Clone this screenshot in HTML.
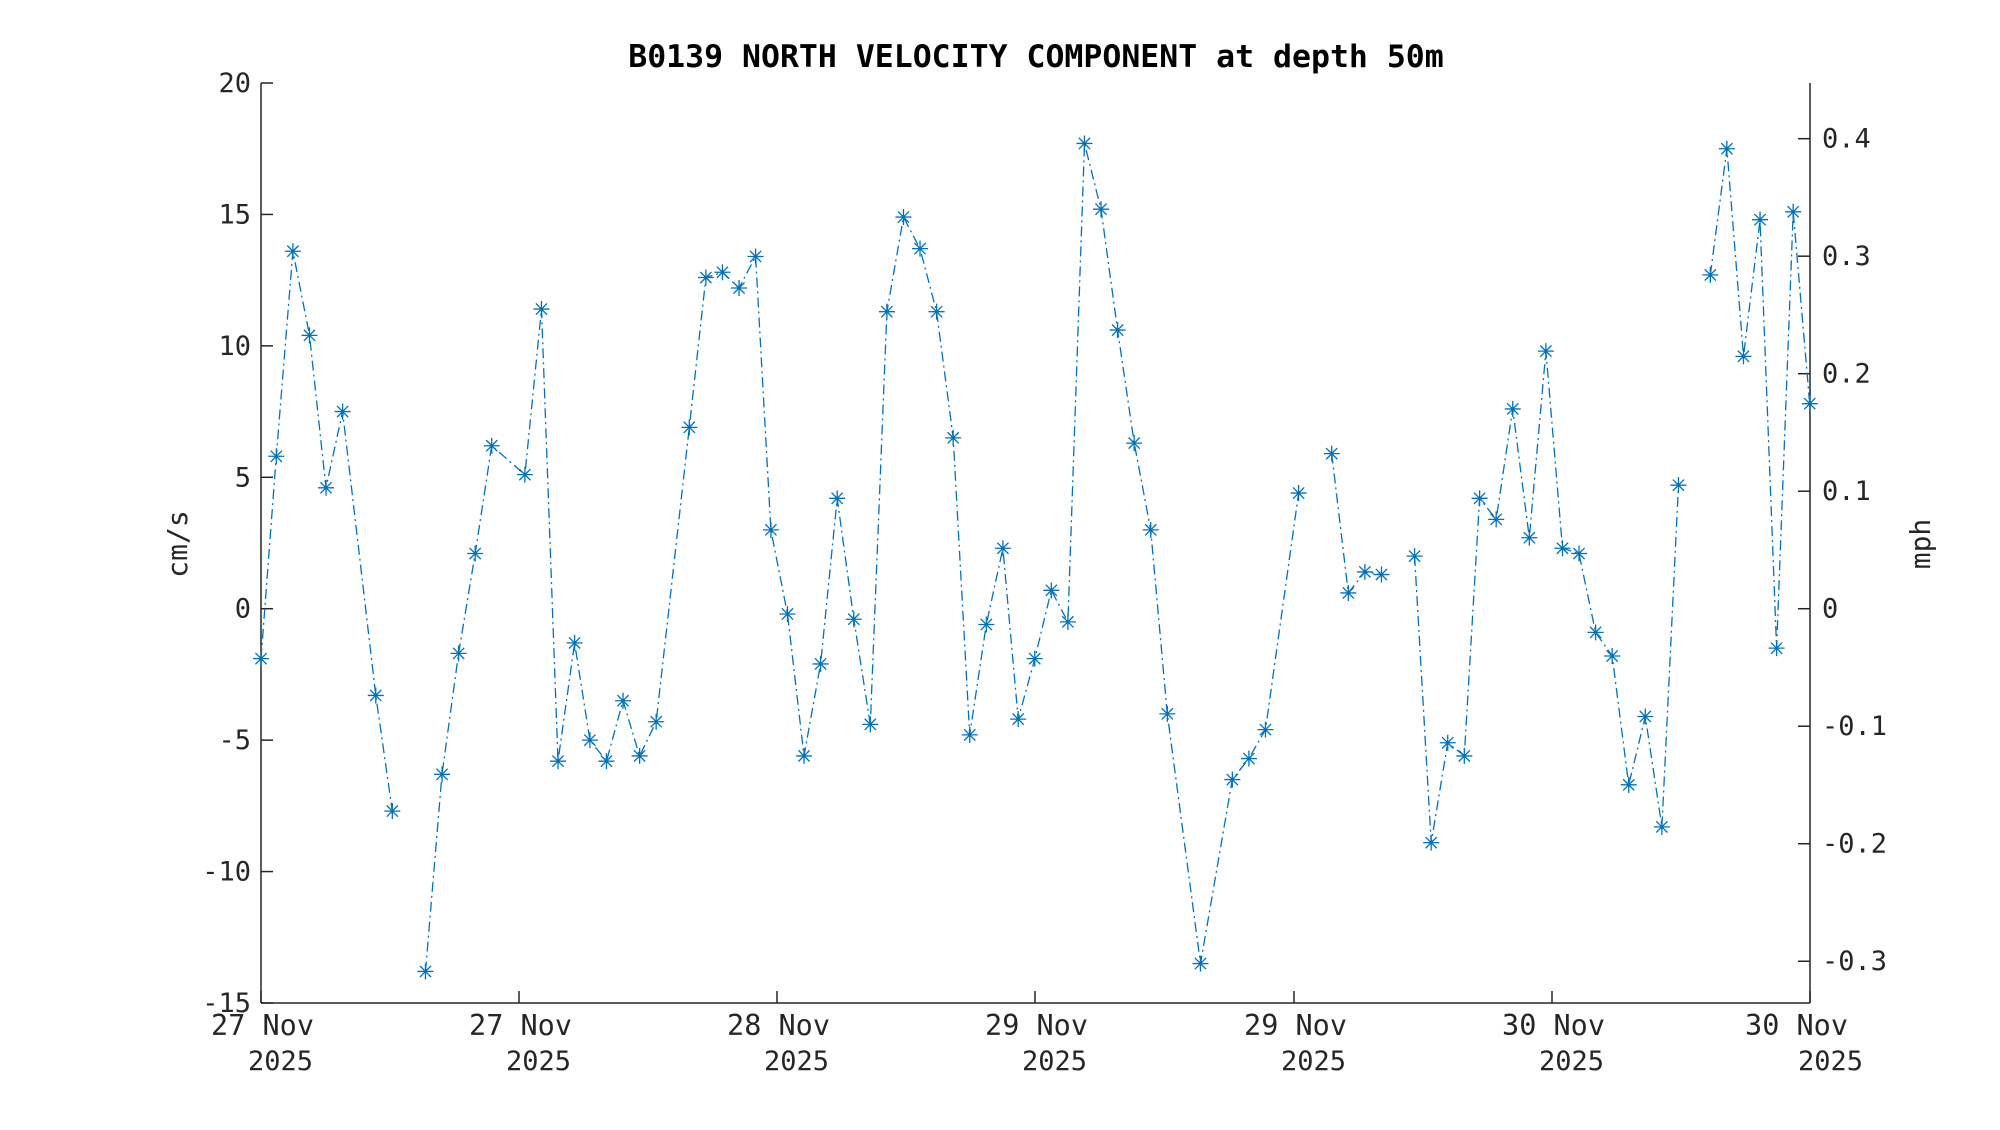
<!DOCTYPE html>
<html><head><meta charset="utf-8">
<style>
html,body{margin:0;padding:0;background:#fff;}
svg text{font-family:"DejaVu Sans Mono","Liberation Mono",monospace;fill:#262626;}
</style></head>
<body>
<svg id="s" width="2000" height="1125" xmlns="http://www.w3.org/2000/svg">
<rect width="2000" height="1125" fill="#fff"/>
<text x="1036" y="67" text-anchor="middle" font-size="31.5" font-weight="bold" style="fill:#000">B0139 NORTH VELOCITY COMPONENT at depth 50m</text>
<g stroke="#262626" stroke-width="1.5" fill="none">
<line x1="261" y1="83" x2="261" y2="1003"/>
<line x1="1810" y1="83" x2="1810" y2="1003"/>
<line x1="261" y1="1003" x2="1810" y2="1003"/>
</g>
<g id="ticks" stroke="#262626" stroke-width="1.5"></g>
<g id="labels" font-size="27"></g>
<text transform="translate(187,544) rotate(-90)" text-anchor="middle" font-size="28">cm/s</text>
<text transform="translate(1930,544) rotate(-90)" text-anchor="middle" font-size="28">mph</text>
<g id="data"></g>
</svg>
<script>
var NS="http://www.w3.org/2000/svg";
function el(t,a,p,txt){var e=document.createElementNS(NS,t);for(var k in a)e.setAttribute(k,a[k]);if(txt!=null)e.textContent=txt;document.getElementById(p).appendChild(e);return e;}
function Y(v){return 83+(20-v)*(920/35);}
function X(x){return 261+(x-261)*(1549/1555);}
for(var v=-15;v<=20;v+=5){var y=Y(v);el("line",{x1:261,y1:y,x2:273,y2:y},"ticks");
el("text",{x:251,y:y+9,"text-anchor":"end"},"labels",String(v));}
var r=[-0.3,-0.2,-0.1,0,0.1,0.2,0.3,0.4];
r.forEach(function(m){var y=Y(m*44.704);el("line",{x1:1798,y1:y,x2:1810,y2:y},"ticks");
el("text",{x:1822,y:y+9},"labels",m===0?"0":m.toFixed(1));});
var xt=[261,520,779,1038,1298,1557,1816],xl=["27 Nov","27 Nov","28 Nov","29 Nov","29 Nov","30 Nov","30 Nov"];
xt.forEach(function(x0,i){var x=X(x0);el("line",{x1:x,y1:1003,x2:x,y2:991},"ticks");
var o1=53,o2=52; if(i==6){o1=38;o2=53;}
el("text",{x:x+o1,y:1035,"text-anchor":"end","font-size":28.5},"labels",xl[i]);
el("text",{x:x+o2,y:1070,"text-anchor":"end"},"labels","2025");});
var d=[[204,-1.9],[216,5.8],[229,13.6],[242,10.4],[255,4.6],[268,7.5],[294,-3.3],[307,-7.7],null,[333,-13.8],[346,-6.3],[359,-1.7],[372,2.1],[385,6.2],[411,5.1],[424,11.4],[437,-5.8],[450,-1.3],[462,-5.0],[475,-5.8],[488,-3.5],[501,-5.6],[514,-4.3],[540,6.9],[553,12.6],[566,12.8],[579,12.2],[592,13.4],[604,3.0],[617,-0.2],[630,-5.6],[643,-2.1],[656,4.2],[669,-0.4],[682,-4.4],[695,11.3],[708,14.9],[721,13.7],[734,11.3],[747,6.5],[760,-4.8],[773,-0.6],[786,2.3],[798,-4.2],[811,-1.9],[824,0.7],[837,-0.5],[850,17.7],[863,15.2],[876,10.6],[889,6.3],[902,3.0],[915,-4.0],[941,-13.5],[966,-6.5],[979,-5.7],[992,-4.6],[1018,4.4],null,[1044,5.9],[1057,0.6],[1070,1.4],[1083,1.3],null,[1109,2.0],[1122,-8.9],[1135,-5.1],[1148,-5.6],[1160,4.2],[1173,3.4],[1186,7.6],[1199,2.7],[1212,9.8],[1225,2.3],[1238,2.1],[1251,-0.9],[1264,-1.8],[1277,-6.7],[1290,-4.1],[1303,-8.3],[1316,4.7],null,[1341,12.7],[1354,17.5],[1367,9.6],[1380,14.8],[1393,-1.5],[1406,15.1],[1419,7.8]];
var s=2000/1563,path="",start=true,pts=[];
d.forEach(function(p){if(!p){start=true;return;}var x=X(p[0]*s),y=Y(p[1]);path+=(start?"M":"L")+x.toFixed(1)+" "+y.toFixed(1)+" ";start=false;pts.push([x,y]);});
el("path",{d:path,fill:"none",stroke:"#0072BD","stroke-width":1.3,"stroke-dasharray":"10 4 2 4"},"data");
pts.forEach(function(q){var x=q[0],y=q[1],r=8,a=r*0.7;
el("path",{d:"M"+(x-r)+" "+y+"L"+(x+r)+" "+y+"M"+x+" "+(y-r)+"L"+x+" "+(y+r)+"M"+(x-a)+" "+(y-a)+"L"+(x+a)+" "+(y+a)+"M"+(x-a)+" "+(y+a)+"L"+(x+a)+" "+(y-a),stroke:"#0072BD","stroke-width":1.3,fill:"none"},"data");});
</script>
</body></html>
